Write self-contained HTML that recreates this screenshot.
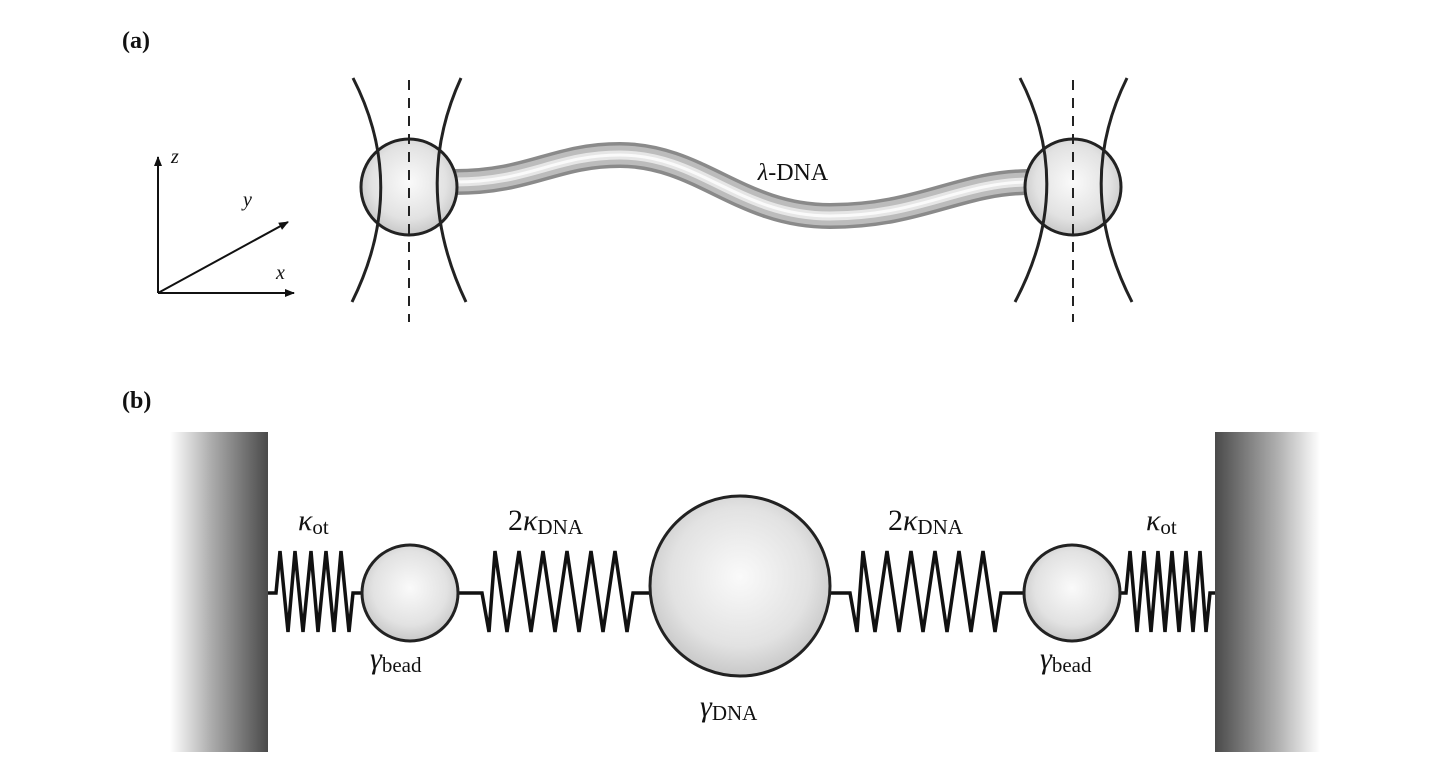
<!DOCTYPE html>
<html><head><meta charset="utf-8"><style>
html,body{margin:0;padding:0;background:#fff}
svg{display:block}
text{font-family:"Liberation Serif",serif;fill:#111}
</style></head><body>
<svg width="1434" height="770" viewBox="0 0 1434 770">
<defs>
<radialGradient id="bead" cx="50%" cy="45%" r="55%"><stop offset="0" stop-color="#fafafa"/><stop offset="0.7" stop-color="#e2e2e2"/><stop offset="1" stop-color="#c8c8c8"/></radialGradient>
<linearGradient id="wl" x1="0" x2="1"><stop offset="0" stop-color="#fff"/><stop offset="0.4" stop-color="#b0b0b0"/><stop offset="1" stop-color="#4a4a4a"/></linearGradient>
<linearGradient id="wr" x1="0" x2="1"><stop offset="0" stop-color="#4a4a4a"/><stop offset="0.6" stop-color="#b0b0b0"/><stop offset="1" stop-color="#fff"/></linearGradient>
<marker id="ar" viewBox="0 0 10 10" refX="9" refY="5" markerWidth="10" markerHeight="10" orient="auto" markerUnits="userSpaceOnUse"><path d="M0,1 L10,5 L0,9 Z" fill="#111"/></marker>
</defs>
<text x="122" y="48" font-size="24" font-weight="bold">(a)</text>
<text x="122" y="408" font-size="24" font-weight="bold">(b)</text>
<g stroke="#111" stroke-width="2" fill="none">
<line x1="158" y1="293" x2="158" y2="157" marker-end="url(#ar)"/>
<line x1="158" y1="293" x2="294" y2="293" marker-end="url(#ar)"/>
<line x1="158" y1="293" x2="288" y2="222" marker-end="url(#ar)"/>
</g>
<text x="171" y="163" font-size="20" font-style="italic">z</text>
<text x="243" y="206" font-size="20" font-style="italic">y</text>
<text x="276" y="279" font-size="20" font-style="italic">x</text>
<g fill="none">
<path d="M455,182 C530,182 555,155 620,155 C700,155 740,216 830,216 C920,216 960,182 1030,182" stroke="#8a8a8a" stroke-width="26"/>
<path d="M455,182 C530,182 555,155 620,155 C700,155 740,216 830,216 C920,216 960,182 1030,182" stroke="#bcbcbc" stroke-width="19"/>
<path d="M455,182 C530,182 555,155 620,155 C700,155 740,216 830,216 C920,216 960,182 1030,182" stroke="#e6e6e6" stroke-width="9"/>
<path d="M455,182 C530,182 555,155 620,155 C700,155 740,216 830,216 C920,216 960,182 1030,182" stroke="#fafafa" stroke-width="3"/>
</g>
<text x="793" y="180" font-size="24" text-anchor="middle"><tspan font-style="italic">λ</tspan>-DNA</text>
<circle cx="409" cy="187" r="48" fill="url(#bead)" stroke="#222" stroke-width="3"/>
<circle cx="1073" cy="187" r="48" fill="url(#bead)" stroke="#222" stroke-width="3"/>
<g stroke="#222" stroke-width="3" fill="none">
<path d="M353,78 Q409,187 352,302"/>
<path d="M461,78 Q411,187 466,302"/>
<path d="M1020,78 Q1076,187 1015,302"/>
<path d="M1127,78 Q1073,187 1132,302"/>
</g>
<g stroke="#222" stroke-width="2" stroke-dasharray="10,8">
<line x1="409" y1="80" x2="409" y2="322"/><line x1="1073" y1="80" x2="1073" y2="322"/>
</g>
<rect x="170" y="432" width="98" height="320" fill="url(#wl)"/>
<rect x="1215" y="432" width="105" height="320" fill="url(#wr)"/>
<g stroke="#111" stroke-width="3.5" fill="none" stroke-linejoin="miter">
<polyline points="268,593 276,593 280,551 288,632 295,551 303,632 311,551 318,632 326,551 334,632 341,551 349,632 353,593 362,593"/>
<polyline points="458,593 482,593 489,632 495,551 507,632 519,551 531,632 543,551 555,632 567,551 579,632 591,551 603,632 615,551 627,632 633,593 652,593"/>
<polyline points="828,593 850,593 857,632 863,551 875,632 887,551 899,632 911,551 923,632 935,551 947,632 959,551 971,632 983,551 995,632 1001,593 1024,593"/>
<polyline points="1118,593 1126,593 1130,551 1137,632 1144,551 1151,632 1158,551 1165,632 1172,551 1179,632 1186,551 1193,632 1200,551 1206,632 1210,593 1215,593"/>
</g>
<circle cx="410" cy="593" r="48" fill="url(#bead)" stroke="#222" stroke-width="3"/>
<circle cx="740" cy="586" r="90" fill="url(#bead)" stroke="#222" stroke-width="3"/>
<circle cx="1072" cy="593" r="48" fill="url(#bead)" stroke="#222" stroke-width="3"/>
<g font-size="30">
<text x="298" y="530"><tspan font-style="italic">κ</tspan><tspan font-size="21" dy="4">ot</tspan></text>
<text x="508" y="530">2<tspan font-style="italic">κ</tspan><tspan font-size="21" dy="4">DNA</tspan></text>
<text x="888" y="530">2<tspan font-style="italic">κ</tspan><tspan font-size="21" dy="4">DNA</tspan></text>
<text x="1146" y="530"><tspan font-style="italic">κ</tspan><tspan font-size="21" dy="4">ot</tspan></text>
<text x="370" y="668"><tspan font-style="italic">γ</tspan><tspan font-size="21" dy="4">bead</tspan></text>
<text x="1040" y="668"><tspan font-style="italic">γ</tspan><tspan font-size="21" dy="4">bead</tspan></text>
<text x="700" y="716"><tspan font-style="italic">γ</tspan><tspan font-size="21" dy="4">DNA</tspan></text>
</g>
</svg>
</body></html>
